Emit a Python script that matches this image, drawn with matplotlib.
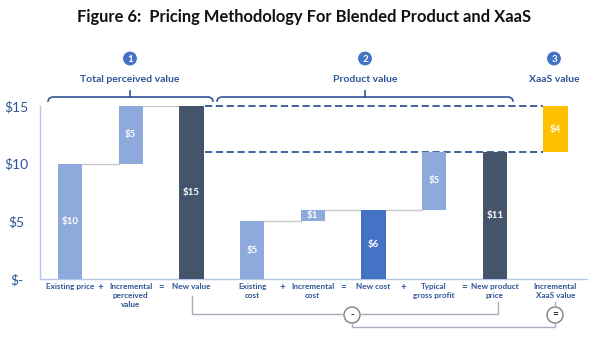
import matplotlib
matplotlib.use("Agg")
import matplotlib.pyplot as plt
from matplotlib.patches import Circle

# ---- data ----
categories = ["Existing price", "Incremental\nperceived\nvalue", "New value",
              "Existing\ncost", "Incremental\ncost", "New cost",
              "Typical\ngross profit", "New product\nprice", "Incremental\nXaaS value"]
values = [10, 5, 15, 5, 1, 6, 5, 11, 4]
bottoms = [0, 10, 0, 0, 5, 0, 6, 0, 11]
bar_labels = ["$10", "$5", "$15", "$5", "$1", "$6", "$5", "$11", "$4"]
operators = {0: "+", 1: "=", 3: "+", 4: "=", 5: "+", 6: "="}   # between bar i and i+1
yticks = [0, 5, 10, 15]
ytick_labels = ["$-", "$5", "$10", "$15"]
connectors = [(0, 10), (1, 15), (3, 5), (4, 6), (5, 6)]  # (from bar i to i+1, level)
dashed_levels = [15, 11]
groups = ["Total perceived value", "Product value", "XaaS value"]
group_nums = ["1", "2", "3"]

LIGHT = "#8EA9DB"
DARK = "#44546A"
MID = "#4472C4"
GOLD = "#FFC000"
colors = [LIGHT, LIGHT, DARK, LIGHT, LIGHT, MID, LIGHT, DARK, GOLD]
TXT = "#2F5597"

plt.rcParams['font.family'] = ['Lato', 'DejaVu Sans']

fig = plt.figure(figsize=(6, 3.38), dpi=100)
ax = fig.add_axes([40/600, 1-279/338, 547/600, 173/338])
x = list(range(len(values)))
w = 0.4
ax.bar(x, values, bottom=bottoms, width=w, color=colors, zorder=3)
for i, (v, b, lab) in enumerate(zip(values, bottoms, bar_labels)):
    ax.text(i, b + v/2, lab, ha="center", va="center", color="white",
            fontsize=7, fontweight="bold", zorder=4)
for i, lvl in connectors:
    ax.plot([i + w/2, i + 1 - w/2], [lvl, lvl], color="#C9C9C9", lw=1, zorder=2)
for lvl in dashed_levels:
    ax.plot([2 + w/2 + 0.03, 8 - w/2], [lvl, lvl], color=TXT, lw=1.3,
            ls=(0, (4, 2)), zorder=2, clip_on=False)

ax.set_xlim(-0.495, 8.52)
ax.set_ylim(0, 15)
ax.set_yticks(yticks)
ax.set_yticklabels(ytick_labels, color=TXT, fontsize=10)
ax.set_xticks(x)
ax.set_xticklabels(categories, color=TXT, fontsize=5.9, fontweight="bold",
                   linespacing=1.35, va="top")
ax.tick_params(length=0, pad=3)
ax.tick_params(axis="y", pad=17)
for t in ax.get_yticklabels():
    t.set_horizontalalignment("center")
for s in ["top", "right"]:
    ax.spines[s].set_visible(False)
for s in ["left", "bottom"]:
    ax.spines[s].set_color("#B4C7E7")
    ax.spines[s].set_linewidth(1)
trans = ax.get_xaxis_transform()
for i, op in operators.items():
    ax.text(i + 0.5, -0.025, op, transform=trans, ha="center", va="top",
            color=TXT, fontsize=7, fontweight="bold")

# ---- overlay in pixel coordinates for annotations ----
ov = fig.add_axes([0, 0, 1, 1], zorder=5)
ov.set_xlim(0, 600)
ov.set_ylim(338, 0)
ov.axis("off")
ov.patch.set_alpha(0)

ov.text(304, 17, "Figure 6:  Pricing Methodology For Blended Product and XaaS",
        ha="center", va="center", fontsize=11.9, fontweight="bold", color="#111111")

def bracket(x0, x1, xc):
    ov.plot([x0, x0 + 1, x0 + 4, x1 - 4, x1 - 1, x1],
            [101, 98.5, 97, 97, 98.5, 101], color=TXT, lw=1.2)
    ov.plot([xc, xc], [97, 91], color=TXT, lw=1.2)

bracket(48, 213, 130)
bracket(217, 513, 365)

for cx, num, lab in zip([130, 365, 554], group_nums, groups):
    ov.add_patch(Circle((cx, 58.5), 7.5, facecolor=MID, edgecolor="white", lw=0.8))
    ov.text(cx, 59, num, ha="center", va="center", color="white", fontsize=7,
            fontweight="bold")
    ov.text(cx, 80, lab, ha="center", va="center", color=TXT, fontsize=7.5,
            fontweight="bold")

GREY = "#A5AFBD"
ov.plot([192, 192, 344], [296, 314, 314], color=GREY, lw=1)
ov.plot([360, 498, 498], [314, 314, 302], color=GREY, lw=1)
ov.plot([352, 352, 555, 555], [323, 327, 327, 323], color=GREY, lw=1)
ov.plot([555, 555], [307, 302], color=GREY, lw=1)
for cx, sym in [(352, "-"), (555, "=")]:
    ov.add_patch(Circle((cx, 315), 8, facecolor="white", edgecolor="#7F7F7F", lw=1))
    ov.text(cx, 315, sym, ha="center", va="center", color="#222222", fontsize=7,
            fontweight="bold")

fig.savefig("out.png", dpi=100)
